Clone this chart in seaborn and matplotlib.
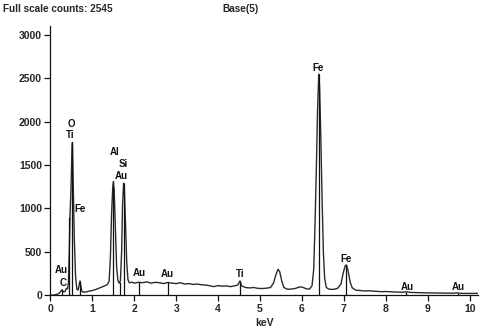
import numpy as np
import pandas as pd
import matplotlib
matplotlib.use("Agg")
import matplotlib.pyplot as plt
import seaborn as sns

# ---- data ----
energy_kev = [0.00, 0.10, 0.18, 0.22, 0.26, 0.28, 0.31, 0.35, 0.38, 0.41, 0.43, 0.45, 0.47, 0.49,
              0.51, 0.525, 0.545, 0.57, 0.60, 0.63, 0.66, 0.69, 0.705, 0.72, 0.75, 0.80, 0.90, 1.00,
              1.10, 1.20, 1.30, 1.36, 1.40, 1.43, 1.46, 1.49, 1.505, 1.52, 1.55, 1.58, 1.61, 1.64,
              1.67, 1.70, 1.72, 1.745, 1.76, 1.79, 1.82, 1.85, 1.88, 1.95, 2.00, 2.10, 2.20, 2.30,
              2.40, 2.50, 2.60, 2.70, 2.80, 2.90, 3.00, 3.10, 3.20, 3.30, 3.40, 3.50, 3.60, 3.70,
              3.80, 3.90, 4.00, 4.10, 4.20, 4.30, 4.40, 4.47, 4.52, 4.56, 4.65, 4.75, 4.85, 4.95,
              5.05, 5.15, 5.25, 5.32, 5.38, 5.43, 5.47, 5.52, 5.57, 5.65, 5.75, 5.85, 5.95, 6.02,
              6.10, 6.18, 6.24, 6.28, 6.31, 6.34, 6.37, 6.40, 6.42, 6.45, 6.48, 6.51, 6.54, 6.58,
              6.65, 6.75, 6.85, 6.93, 6.98, 7.03, 7.06, 7.10, 7.15, 7.20, 7.28, 7.40, 7.50, 7.60,
              7.70, 7.80, 7.90, 8.00, 8.20, 8.40, 8.50, 8.60, 8.80, 9.00, 9.20, 9.40, 9.60, 9.70,
              9.80, 10.00, 10.20]
counts = [0, 5, 15, 30, 55, 65, 40, 45, 80, 75, 150, 500, 950, 1200,
          1600, 1760, 1250, 650, 220, 70, 60, 130, 165, 120, 45, 35, 45, 55,
          70, 90, 110, 125, 160, 420, 950, 1270, 1310, 1220, 750, 320, 170, 140,
          170, 520, 1030, 1290, 1260, 850, 380, 180, 145, 150, 140, 150, 145, 155,
          140, 150, 145, 135, 148, 140, 135, 145, 130, 135, 125, 130, 122, 118,
          110, 100, 112, 105, 108, 100, 110, 120, 165, 110, 90, 85, 90, 80,
          78, 82, 90, 140, 240, 300, 270, 160, 90, 70, 72, 80, 98, 92,
          75, 72, 110, 300, 800, 1400, 2100, 2545, 2400, 1800, 1100, 500, 200, 90,
          70, 68, 80, 130, 250, 340, 350, 280, 150, 85, 60, 55, 50, 52,
          48, 45, 42, 44, 38, 36, 40, 33, 30, 28, 27, 25, 24, 28,
          22, 22, 22]

# element marker lines (energy, height)
marker_kev = [0.277, 0.45, 0.525, 0.705, 1.49, 1.66, 1.745, 2.12, 2.80, 4.51, 6.40, 7.06, 8.49, 9.71]
marker_counts = [65, 900, 1760, 165, 1250, 150, 1290, 150, 148, 160, 2545, 350, 40, 28]

# peak labels (text, energy, counts position)
label_text = ["Au", "C", "O", "Ti", "Fe", "Al", "Si", "Au", "Au", "Au", "Ti", "Fe", "Fe", "Au", "Au"]
label_kev = [0.27, 0.30, 0.51, 0.47, 0.70, 1.54, 1.75, 1.68, 2.11, 2.80, 4.52, 6.38, 7.05, 8.51, 9.73]
label_counts = [291, 142, 1973, 1847, 994, 1651, 1513, 1374, 257, 245, 245, 2619, 418, 96, 96]

x_ticks = [0, 1, 2, 3, 4, 5, 6, 7, 8, 9, 10]
y_ticks = [0, 500, 1000, 1500, 2000, 2500, 3000]

sns.set_style("white")
plt.rcParams['font.family'] = ['Liberation Sans', 'DejaVu Sans']

fig = plt.figure(figsize=(4.8, 3.32), dpi=100)
ax = fig.add_axes([0.105, 0.1105, 0.891, 0.8112])

df = pd.DataFrame({"keV": energy_kev, "counts": counts})
sns.lineplot(data=df, x="keV", y="counts", ax=ax, color="#2a2a2a", linewidth=1.0)
ax.vlines(marker_kev, 0, marker_counts, color="#111111", linewidth=0.9)

for t, xk, yc in zip(label_text, label_kev, label_counts):
    ax.text(xk, yc, t, ha="center", va="center", fontsize=7, fontweight="bold", color="#111111")

ax.set_xlim(0, 10.2)
ax.set_ylim(0, 3100)
ax.set_xticks(x_ticks)
ax.set_yticks(y_ticks)
ax.set_xticklabels([str(v) for v in x_ticks], fontsize=7.5, fontweight="bold")
ax.set_yticklabels([str(v) for v in y_ticks], fontsize=7.5, fontweight="bold")
ax.tick_params(axis="both", direction="out", length=4, width=0.9, color="#111111", pad=2,
               left=True, bottom=True)
ax.set_xlabel("keV", fontsize=7.5, fontweight="bold", labelpad=3)
ax.set_ylabel("")
for side in ["top", "right"]:
    ax.spines[side].set_visible(False)
for side in ["left", "bottom"]:
    ax.spines[side].set_color("#111111")
    ax.spines[side].set_linewidth(0.9)

fig.text(3 / 480, 1 - 9 / 332, "Full scale counts: 2545", ha="left", va="center",
         fontsize=7.2, fontweight="bold")
fig.text(222 / 480, 1 - 9 / 332, "Base(5)", ha="left", va="center",
         fontsize=7.2, fontweight="bold")

fig.savefig("out.png", dpi=100)
